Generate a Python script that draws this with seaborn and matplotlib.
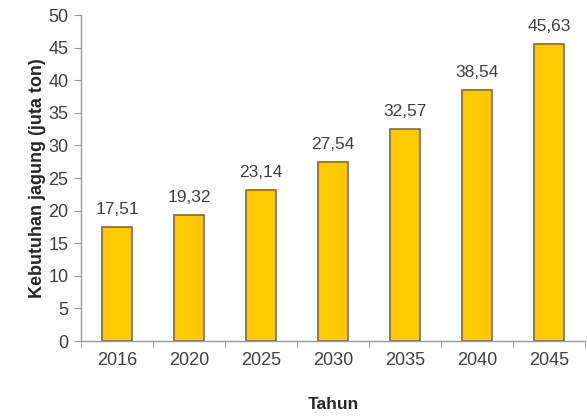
import matplotlib
matplotlib.use("Agg")
import matplotlib.pyplot as plt
import seaborn as sns
import pandas as pd
import numpy as np

# data
tahun = ["2016", "2020", "2025", "2030", "2035", "2040", "2045"]
kebutuhan = [17.51, 19.32, 23.14, 27.54, 32.57, 38.54, 45.63]
label_nilai = ["17,51", "19,32", "23,14", "27,54", "32,57", "38,54", "45,63"]

sns.set_style("white")
plt.rcParams['font.family'] = ['Liberation Sans', 'DejaVu Sans']

df = pd.DataFrame({"Tahun": tahun, "Kebutuhan": kebutuhan})

fig = plt.figure(figsize=(5.87, 4.18), dpi=100)
ax = fig.add_axes([0.138, 0.184, 0.859, 0.780])

sns.barplot(data=df, x="Tahun", y="Kebutuhan", color="#FFC800", saturation=1,
            width=0.42, edgecolor="#7a6a55", linewidth=1.2, ax=ax)

for i, (v, t) in enumerate(zip(kebutuhan, label_nilai)):
    ax.text(i, v + 1.5, t, ha="center", va="bottom", fontsize=12.5, color="#404040")

ax.set_ylim(0, 50)
ax.set_xlim(-0.5, len(tahun) - 0.5)
ax.set_yticks(np.arange(0, 51, 5))
ax.tick_params(axis="y", labelsize=13, labelcolor="#404040", length=5,
               color="#999999", left=True, direction="out", pad=4)
ax.set_xticks(np.arange(-0.5, len(tahun), 1), minor=True)
ax.tick_params(axis="x", which="major", length=0, labelsize=13,
               labelcolor="#404040", pad=8)
ax.tick_params(axis="x", which="minor", length=5, color="#999999",
               bottom=True, direction="out")

for s in ["top", "right"]:
    ax.spines[s].set_visible(False)
for s in ["left", "bottom"]:
    ax.spines[s].set_color("#999999")
    ax.spines[s].set_linewidth(1.0)

ax.set_xlabel("Tahun", fontsize=12.5, fontweight="bold", labelpad=20)
ax.set_ylabel("Kebutuhan jagung (juta ton)", fontsize=13, fontweight="bold",
              labelpad=2)

fig.savefig("out.png", dpi=100)
